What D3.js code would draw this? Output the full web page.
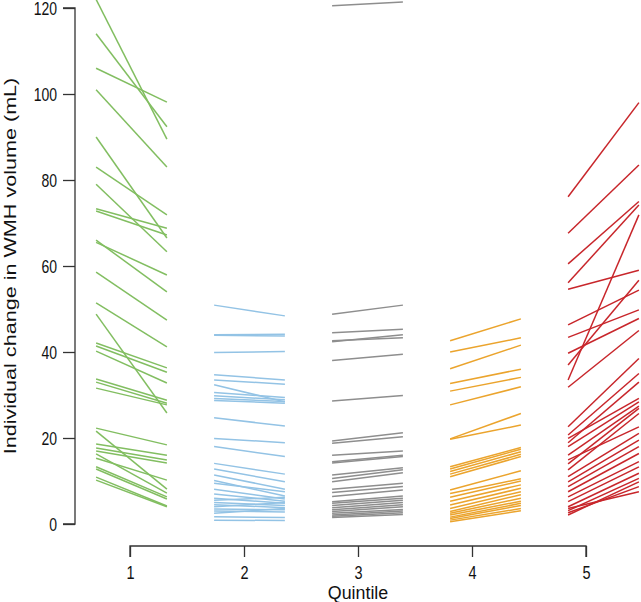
<!DOCTYPE html>
<html>
<head>
<meta charset="utf-8">
<script src="https://cdn.jsdelivr.net/npm/d3@7"></script>
<style>
  html, body { margin: 0; padding: 0; background: #fff; }
  svg { display: block; font-family: "Liberation Sans", Arial, sans-serif; }
</style>
</head>
<body>
<svg id="chart" width="641" height="602"></svg>
<script>
// ---- Data ----
const quintiles = [1, 2, 3, 4, 5];
const yTicks = [0, 20, 40, 60, 80, 100, 120];
const colors = ["#82be61", "#93c3e5", "#8e8e8e", "#eba42d", "#c8262b"];

// [start, end] change in WMH volume (mL) for each individual
const q1Lines = [
  [122, 89.5], [114, 92.4], [106, 98.1], [101, 83], [90, 66.5], [83, 71.9], [79, 63.3],
  [73.3, 68.8], [72.8, 67.2], [66, 54], [65.5, 57.9], [58.6, 47.4], [51.4, 41.2],
  [48.8, 25.8], [42.1, 36.3], [41.4, 35.3], [40.2, 32.8], [33.7, 28.8], [33, 28.1],
  [31.6, 27.7], [22.3, 18.4], [21.6, 8.1], [18.6, 16], [17.7, 14.9], [17, 14.2],
  [16.3, 7.2], [15.3, 10.2], [13.3, 6.3], [12.8, 5.8], [10.9, 4.2], [10.2, 4]
];
const q2Lines = [
  [50.9, 48.4], [44.0, 44.1], [43.9, 43.7], [39.9, 40.1], [34.7, 33.5], [33.5, 32.5],
  [32.4, 28.4], [30.6, 29.4], [29.8, 28.9], [29.2, 28.5], [28.7, 28.1], [24.7, 22.8],
  [19.9, 18.9], [18.0, 15.7], [14.1, 11.6], [12.8, 9.8], [11.4, 8.1], [10.1, 6.5],
  [9.5, 7.5], [8.1, 5.8], [7.0, 5.3], [6.0, 4.8], [5.5, 6.2], [5.0, 4.3], [4.5, 3.8],
  [4.0, 5.0], [3.5, 3.3], [3.0, 2.8], [2.5, 3.6], [1.7, 1.5], [0.9, 0.8]
];
const q3Lines = [
  [120.5, 121.4], [48.8, 50.9], [44.5, 45.3], [42.6, 43.3], [42.4, 44.0], [38.0, 39.5],
  [28.6, 29.9], [19.3, 21.2], [18.8, 20.3], [16.0, 17.0], [14.5, 16.0], [14.2, 15.7],
  [11.4, 13.1], [10.6, 12.6], [9.8, 11.9], [8.1, 9.5], [7.3, 8.7], [6.4, 7.9],
  [5.2, 6.5], [4.8, 6.0], [4.3, 5.5], [3.8, 5.0], [3.3, 4.5], [2.9, 4.0], [2.5, 3.4],
  [2.1, 3.0], [1.8, 2.6], [1.5, 2.2]
];
const q4Lines = [
  [42.6, 47.7], [40.0, 43.3], [36.1, 41.6], [32.7, 36.0], [30.9, 34.1], [27.7, 31.9],
  [19.8, 25.7], [19.7, 23.0], [13.3, 17.8], [12.8, 17.4], [12.2, 16.8], [11.6, 16.2],
  [11.0, 15.7], [7.9, 12.4], [7.1, 10.5], [6.2, 10.0], [5.3, 9.1], [4.4, 8.3],
  [3.6, 7.5], [2.9, 6.8], [2.5, 6.0], [2.1, 5.3], [1.6, 4.8], [1.3, 4.3], [0.9, 3.6],
  [0.5, 3.1]
];
const q5Lines = [
  [76.1, 98], [67.6, 83.5], [60.5, 75], [56.1, 74.2], [54.6, 59], [46.3, 54.4],
  [43.4, 49.8], [39.7, 47.8], [37, 56.7], [33.5, 71.9], [31.8, 45], [22.6, 38.5],
  [20.7, 35], [19.9, 29.2], [18.9, 33], [18, 28.4], [16, 27.4], [14.9, 22.6],
  [14, 26.9], [12.6, 25.7], [11, 21.1], [9.8, 19.5], [8.7, 18], [7.5, 16.4],
  [6.3, 14.5], [5.2, 13.3], [4, 11.8], [3.1, 10.6], [2.1, 9.8], [2.6, 8.7], [3.6, 7.5]
];
const groups = [q1Lines, q2Lines, q3Lines, q4Lines, q5Lines];

// ---- Chart ----
const svg = d3.select("#chart");

const y = d3.scaleLinear().domain([0, 120]).range([524, 8]);
const xAxisScale = d3.scaleLinear().domain([1, 5]).range([130, 586]);
const xLine = d3.scaleLinear().domain([1, 5]).range([131.5, 603.5]);
const halfWidth = 0.3;

// Lines
groups.forEach((lines, gi) => {
  const q = quintiles[gi];
  svg.append("g")
    .selectAll("line")
    .data(lines)
    .join("line")
    .attr("x1", xLine(q - halfWidth))
    .attr("x2", xLine(q + halfWidth))
    .attr("y1", d => y(d[0]))
    .attr("y2", d => y(d[1]))
    .attr("stroke", colors[gi])
    .attr("stroke-width", 1.5)
    .attr("fill", "none");
});

// Y axis
const yAxis = d3.axisLeft(y).tickValues(yTicks).tickSize(12).tickPadding(6);
const gy = svg.append("g").attr("transform", "translate(75,0)").call(yAxis);
gy.select(".domain").attr("stroke", "#333").attr("stroke-width", 1.3)
  .attr("d", `M-12,${y(120)}H0V${y(0)}H-12`);
gy.selectAll(".tick line").attr("stroke", "#333").attr("stroke-width", 1.3);
gy.selectAll(".tick text")
  .attr("font-size", 14).attr("fill", "#111")
  .attr("font-family", "Liberation Sans, Arial, sans-serif")
  .attr("y", 0).attr("dy", null)
  .attr("transform", "translate(0,6) scale(1,1.28)");

// X axis
const xAxis = d3.axisBottom(xAxisScale).tickValues(quintiles).tickSize(11).tickPadding(8)
  .tickFormat(d3.format("d"));
const gx = svg.append("g").attr("transform", "translate(0,546)").call(xAxis);
gx.select(".domain").attr("stroke", "#333").attr("stroke-width", 1.3)
  .attr("d", `M${xAxisScale(1)},11V0H${xAxisScale(5)}V11`);
gx.selectAll(".tick line").attr("stroke", "#333").attr("stroke-width", 1.3);
gx.selectAll(".tick text")
  .attr("font-size", 14.5).attr("fill", "#111")
  .attr("font-family", "Liberation Sans, Arial, sans-serif")
  .attr("y", 0).attr("dy", null)
  .attr("transform", "translate(0,33) scale(1,1.28)");

// Axis titles
svg.append("text")
  .attr("transform", `translate(${xAxisScale(3)},599) scale(1.05,1.1)`)
  .attr("text-anchor", "middle")
  .attr("font-size", 17).attr("fill", "#111")
  .text("Quintile");

svg.append("text")
  .attr("transform", `translate(16,${y(60)}) rotate(-90) scale(1.27,1)`)
  .attr("text-anchor", "middle")
  .attr("font-size", 17).attr("fill", "#111")
  .text("Individual change in WMH volume (mL)");
</script>
</body>
</html>
